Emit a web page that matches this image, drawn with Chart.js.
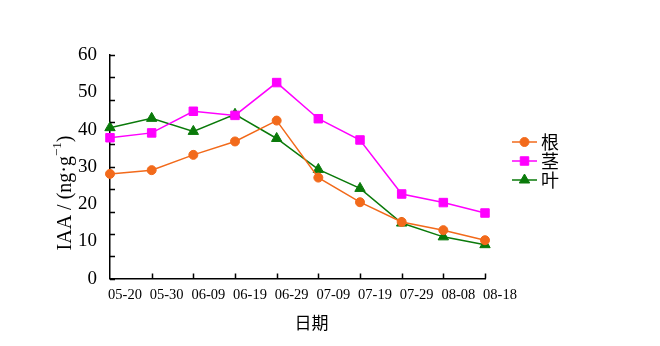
<!DOCTYPE html>
<html>
<head>
<meta charset="utf-8">
<script src="https://cdn.jsdelivr.net/npm/chart.js@4/dist/chart.umd.min.js"></script>
<style>
  html, body { margin: 0; padding: 0; background: #fff; }
  #wrap { width: 660px; height: 346px; position: relative; }
</style>
</head>
<body>
<div id="wrap"><canvas id="iaaChart"></canvas></div>
<script>
// sampling dates and IAA content (ng/g) for root, stem and leaf
var dates = ['05-20', '05-30', '06-09', '06-19', '06-29', '07-09', '07-19', '07-29', '08-08', '08-18'];
var root = [28.1, 29.1, 33.2, 36.8, 42.4, 27.1, 20.5, 15.2, 13.0, 10.3];
var stem = [37.8, 39.1, 44.9, 43.8, 52.6, 42.9, 37.2, 22.7, 20.4, 17.6];
var leaf = [40.5, 43.0, 39.5, 44.1, 37.6, 29.3, 24.2, 14.9, 11.2, 9.1];
var seriesNames = ['根', '茎', '叶'];
var xTitle = '日期';

// y axis: labels every 10, small tick marks every 6
var yLabels = [0, 10, 20, 30, 40, 50, 60];
var yTickMarks = [0, 6, 12, 18, 24, 30, 36, 42, 48, 54, 60];

var serif = '"Liberation Serif", "Times New Roman", serif';
var cjk = '"Noto Sans CJK SC", sans-serif';

// inward tick marks on both axes
var innerTicks = {
    id: 'innerTicks',
    afterDraw: function (chart) {
        var ctx = chart.ctx;
        var xs = chart.scales.x, ys = chart.scales.y;
        var area = chart.chartArea;
        ctx.save();
        ctx.strokeStyle = '#000';
        ctx.lineWidth = 1.5;
        ctx.beginPath();
        for (var i = 0; i < yTickMarks.length; i++) {
            var py = Math.round(ys.getPixelForValue(yTickMarks[i])) + 0.5;
            ctx.moveTo(area.left, py);
            ctx.lineTo(area.left + 5, py);
        }
        for (var j = 1; j < dates.length; j++) {
            var px = Math.round(xs.getPixelForValue(j)) + 0.5;
            ctx.moveTo(px, area.bottom);
            ctx.lineTo(px, area.bottom - 5);
        }
        ctx.stroke();
        ctx.restore();
    }
};

// axis titles: rotated y title with a superscript -1, and the date title below
var axisTitles = {
    id: 'axisTitles',
    afterDraw: function (chart) {
        var ctx = chart.ctx;
        var area = chart.chartArea;
        var main = 'IAA / (ng·g';
        var sup = '−1';
        ctx.save();
        ctx.fillStyle = '#000';
        ctx.textBaseline = 'alphabetic';
        ctx.font = '20px ' + serif;
        var w1 = ctx.measureText(main).width;
        var w3 = ctx.measureText(')').width;
        ctx.font = '13px ' + serif;
        var w2 = ctx.measureText(sup).width;
        var total = w1 + w2 + w3;
        ctx.save();
        ctx.translate(71, 193);
        ctx.rotate(-Math.PI / 2);
        var x0 = -total / 2;
        ctx.font = '20px ' + serif;
        ctx.fillText(main, x0, 0);
        ctx.font = '13px ' + serif;
        ctx.fillText(sup, x0 + w1, -10);
        ctx.font = '20px ' + serif;
        ctx.fillText(')', x0 + w1 + w2, 0);
        ctx.restore();

        ctx.font = '17px ' + cjk;
        ctx.textAlign = 'center';
        ctx.textBaseline = 'middle';
        ctx.fillText(xTitle, (area.left + area.right) / 2 + 14, 323);
        ctx.restore();
    }
};

// legend on the right: short line, marker, name
var sideLegend = {
    id: 'sideLegend',
    afterDraw: function (chart) {
        var ctx = chart.ctx;
        var x0 = 512, x1 = 537, yTop = 142, gap = 19;
        ctx.save();
        chart.data.datasets.forEach(function (ds, i) {
            var y = yTop + i * gap;
            ctx.strokeStyle = ds.borderColor;
            ctx.fillStyle = ds.backgroundColor;
            ctx.lineWidth = ds.borderWidth;
            ctx.beginPath();
            ctx.moveTo(x0, y);
            ctx.lineTo(x1, y);
            ctx.stroke();
            ctx.lineWidth = 1;
            Chart.helpers.drawPoint(ctx, {
                pointStyle: ds.pointStyle,
                radius: ds.pointRadius,
                borderWidth: 1,
                rotation: 0
            }, (x0 + x1) / 2, y);
            ctx.fillStyle = '#000';
            ctx.font = '18px ' + cjk;
            ctx.textBaseline = 'middle';
            ctx.fillText(ds.label, 541, y);
        });
        ctx.restore();
    }
};

function makeSet(name, values, color, style, radius) {
    return {
        label: name,
        data: values,
        borderColor: color,
        backgroundColor: color,
        pointBackgroundColor: color,
        pointBorderColor: color,
        borderWidth: 1.5,
        pointStyle: style,
        pointRadius: radius,
        pointBorderWidth: 1,
        tension: 0,
        fill: false
    };
}

var chart = new Chart(document.getElementById('iaaChart'), {
    type: 'line',
    data: {
        labels: dates,
        datasets: [
            makeSet(seriesNames[0], root, '#F26A1B', 'circle', 4.5),
            makeSet(seriesNames[1], stem, '#FF00FF', 'rect', 6),
            makeSet(seriesNames[2], leaf, '#0A7A0A', 'triangle', 6)
        ]
    },
    options: {
        responsive: true,
        maintainAspectRatio: false,
        animation: false,
        layout: { padding: { left: 65, right: 175, top: 55, bottom: 34 } },
        plugins: {
            legend: { display: false },
            tooltip: { enabled: false }
        },
        scales: {
            x: {
                offset: false,
                grid: { display: false, drawTicks: false },
                border: { color: '#000', width: 1.5 },
                ticks: {
                    color: '#000',
                    font: { family: serif, size: 14.5 },
                    padding: 8,
                    labelOffset: 15,
                    maxRotation: 0,
                    autoSkip: false
                }
            },
            y: {
                min: 0,
                max: 60,
                grid: { display: false, drawTicks: false },
                border: { color: '#000', width: 1.5 },
                afterBuildTicks: function (axis) {
                    axis.ticks = yLabels.map(function (v) { return { value: v }; });
                },
                ticks: {
                    color: '#000',
                    font: { family: serif, size: 19 },
                    padding: 13
                }
            }
        }
    },
    plugins: [innerTicks, axisTitles, sideLegend]
});
</script>
</body>
</html>
